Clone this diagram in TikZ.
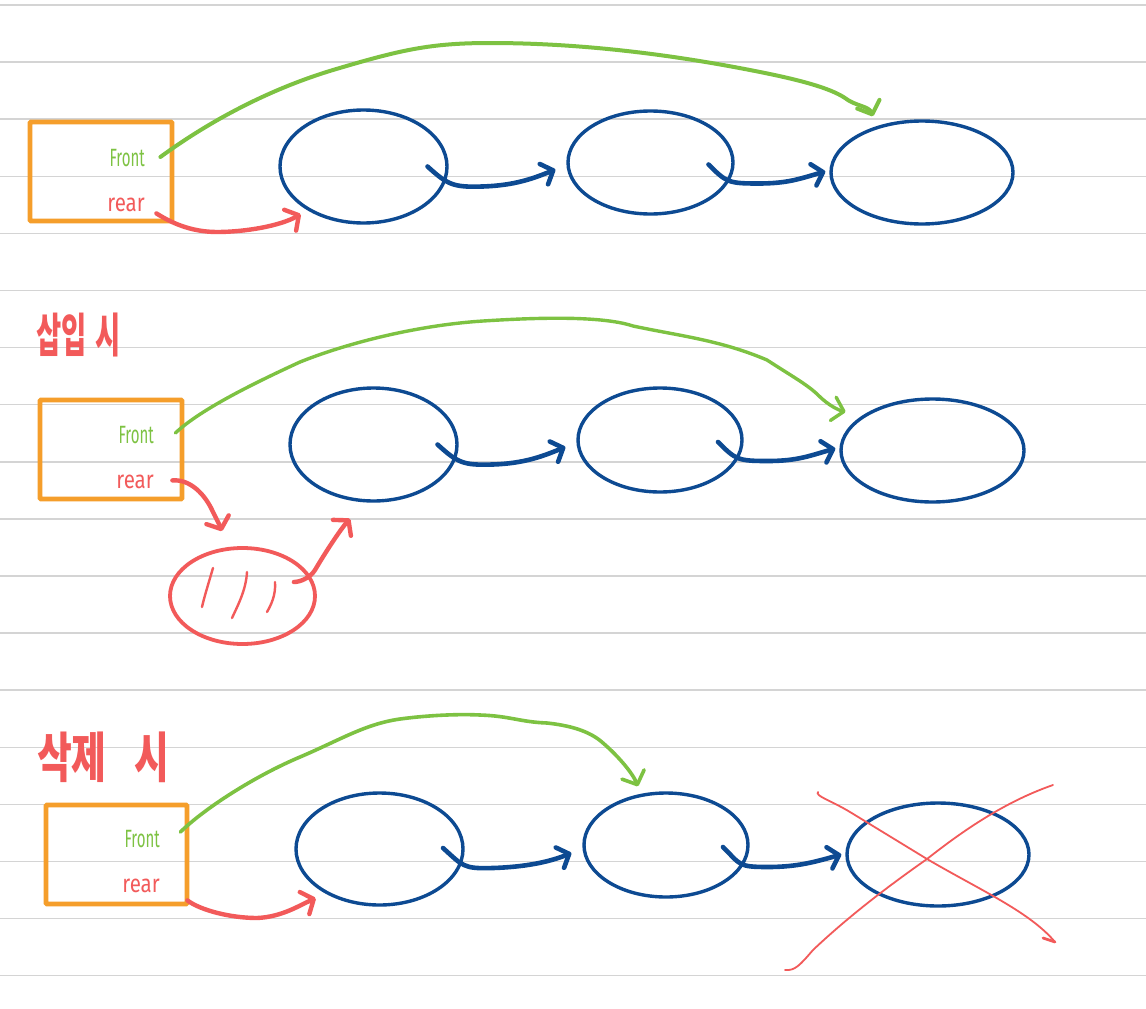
\documentclass[tikz,border=0pt]{standalone}
\usepackage{fontspec}
\usepackage{graphicx}
\setmainfont{Fira Sans}
\newfontfamily\krfont{Noto Sans CJK KR}
\usetikzlibrary{shapes.geometric,arrows.meta,calc}
\definecolor{rulegray}{HTML}{D4D4D4}
\definecolor{nblue}{HTML}{0D4A92}
\definecolor{ngreen}{HTML}{7DC242}
\definecolor{nred}{HTML}{F25A5A}
\definecolor{norange}{HTML}{F59E2B}
\newcommand\frontlbl{\fontsize{25}{25}\selectfont\scalebox{0.6}[1]{Front}}
\newcommand\rearlbl{\fontsize{25}{25}\selectfont\scalebox{0.82}[1]{rear}}
\tikzset{
  ruled/.style={draw=rulegray, line width=1.5pt},
  headbox/.style={draw=norange, line width=4.8pt, rounded corners=1pt, inner sep=0pt,
                  minimum width=142pt, minimum height=99pt},
  ell/.style={draw=nblue, ellipse, line width=3.4pt, inner sep=0pt},
  lblg/.style={text=ngreen, inner sep=0pt, anchor=base east},
  lblr/.style={text=nred, inner sep=0pt, anchor=base east},
  titletxt/.style={text=nred, inner sep=0pt, anchor=west, font=\krfont\bfseries\fontsize{36}{36}\selectfont},
  garrow/.style={draw=ngreen, line width=4pt, line cap=round, line join=round,
                 -{Straight Barb[round,length=11pt,width=24pt]}},
  barrow/.style={draw=nblue, line width=4.6pt, line cap=round, line join=round,
                 -{Straight Barb[round,length=10pt,width=22pt]}},
  rarrow/.style={draw=nred, line width=4.4pt, line cap=round, line join=round,
                 -{Straight Barb[round,length=10pt,width=24pt]}},
  blobstyle/.style={draw=nred, ellipse, line width=3.8pt, inner sep=0pt,
                    minimum width=145pt, minimum height=96pt},
  hatch/.style={draw=nred, line width=2.4pt, line cap=round},
  crossline/.style={draw=nred, line width=1.8pt, line cap=round},
}
\begin{document}
\begin{tikzpicture}[x={(1pt,0pt)}, y={(0pt,-1pt)}]
\useasboundingbox (0,0) rectangle (1146,1009);
\fill[white] (0,0) rectangle (1146,1009);
\foreach \k in {0,...,17} \draw[ruled] (0,{5+57.1*\k}) -- (1146,{5+57.1*\k});

% ---------- row 1 ----------
\node[headbox] (box1) at (101,171.5) {};
\node[lblg] (front1) at (145,166) {\frontlbl};
\node[lblr] (rear1) at (145,211) {\rearlbl};
\node[ell, minimum width=167pt, minimum height=113pt] (e1a) at (363.5,166.5) {};
\node[ell, minimum width=165pt, minimum height=103pt] (e2a) at (650.5,162.5) {};
\node[ell, minimum width=182pt, minimum height=103pt] (e3a) at (922,172.5) {};

\draw[garrow] ($(box1.east)+(-14,-14.5)$) .. controls (200,128) and (260,92) .. (333,70)
  .. controls (400,50) and (430,43) .. (490,43)
  .. controls (600,43) and (700,60) .. (760,72)
  .. controls (800,80) and (830,88) .. (845,98)
  .. controls (855,106) and (869,106) .. ($(e3a.north)+(-49,-3)$);
\draw[barrow] ($(e1a.center)+(64,0)$) .. controls +(20,18) and +(-30,1) .. ++(55,20)
  .. controls +(32,-1) and +(-22,9) .. ($(e2a.west)+(-11,7)$);
\draw[barrow] ($(e2a.center)+(58,2)$) .. controls +(18,18) and +(-30,0) .. ++(50,19)
  .. controls +(30,0) and +(-25,7) .. ($(e3a.west)+(-4,-1)$);
\draw[rarrow] ($(box1.south east)+(-18,-10)$) .. controls (170,222) and (190,232) .. (217,232)
  .. controls (245,232) and (280,226) .. ($(e1a.south west)+(-2.5,6.5)$);

% ---------- row 2 ----------
\node[titletxt] (title2) at (36,335) {\scalebox{0.76}[1.3]{삽입\hspace{12pt}시}};
\node[headbox] (box2) at (111,449.5) {};
\node[lblg] (front2) at (154,443) {\frontlbl};
\node[lblr] (rear2) at (154,488) {\rearlbl};
\node[ell, minimum width=167pt, minimum height=113pt] (e1b) at (373.5,444.5) {};
\node[ell, minimum width=164pt, minimum height=104pt] (e2b) at (660,440) {};
\node[ell, minimum width=183pt, minimum height=103pt] (e3b) at (932.5,450.5) {};
\node[blobstyle] (blob) at (242.5,596) {};

\draw[garrow, line width=3.4pt] ($(box2.east)+(-9,-16.5)$) .. controls (200,410) and (250,385) .. (300,362)
  .. controls (350,342) and (420,325) .. (483,321)
  .. controls (530,318) and (600,315) .. (633,326)
  .. controls (680,336) and (720,340) .. (767,360)
  .. controls (790,375) and (808,385) .. (818,395)
  .. controls (828,405) and (838,410) .. ($(e3b.north west)+(-21,-1)$);
\draw[barrow] ($(e1b.center)+(64,0)$) .. controls +(20,18) and +(-30,1) .. ++(55,20)
  .. controls +(32,-1) and +(-22,9) .. ($(e2b.west)+(-11,7)$);
\draw[barrow] ($(e2b.center)+(58,2)$) .. controls +(18,18) and +(-30,0) .. ++(50,19)
  .. controls +(30,0) and +(-25,7) .. ($(e3b.west)+(-4,-2)$);
\draw[rarrow] ($(box2.south east)+(-12,-21)$) .. controls (190,479) and (205,494) .. (213,512)
  .. controls (217,520) and (220,526) .. ($(blob.north)+(-20.5,-15)$);
\draw[rarrow] ($(blob.east)+(-23,-14)$) .. controls (300,582) and (310,578) .. (315,570)
  .. controls (325,553) and (340,530) .. ($(e1b.south)+(-23.5,16)$);
\draw[hatch] (213,568) .. controls (208,585) and (204,598) .. (202,607);
\draw[hatch] (247,572) .. controls (246,590) and (238,605) .. (232,618);
\draw[hatch] (275,582) .. controls (276,595) and (271,605) .. (267,612);

% ---------- row 3 ----------
\node[titletxt] (title3) at (37,757) {\scalebox{1.05}[1.5]{삭제\hspace{26pt}시}};
\node[headbox, minimum width=141pt] (box3) at (116.5,854.5) {};
\node[lblg] (front3) at (160,847) {\frontlbl};
\node[lblr] (rear3) at (160,892) {\rearlbl};
\node[ell, minimum width=167pt, minimum height=112pt] (e1c) at (379.5,849) {};
\node[ell, minimum width=164pt, minimum height=104pt] (e2c) at (666,845) {};
\node[ell, minimum width=182pt, minimum height=103pt] (e3c) at (938,854.5) {};

\draw[garrow, line width=3.6pt] ($(box3.east)+(-9,-22.5)$) .. controls (205,808) and (255,776) .. (300,757)
  .. controls (340,740) and (365,724) .. (400,719)
  .. controls (430,715) and (460,714) .. (480,715)
  .. controls (510,716) and (520,722) .. (547,723)
  .. controls (575,726) and (592,733) .. (603,743)
  .. controls (617,755) and (632,772) .. ($(e2c.north)+(-28,-5)$);
\draw[barrow] ($(e1c.center)+(63.5,-1)$) .. controls +(20,18) and +(-30,1) .. ++(50,20)
  .. controls +(32,-1) and +(-22,9) .. ($(e2c.west)+(-11,8)$);
\draw[barrow] ($(e2c.center)+(57,2)$) .. controls +(18,18) and +(-30,0) .. ++(45,20)
  .. controls +(30,0) and +(-25,7) .. ($(e3c.west)+(-4,0)$);
\draw[rarrow] ($(box3.south east)+(-2,-6)$) .. controls (200,910) and (230,918) .. (257,918)
  .. controls (282,917) and (300,905) .. ($(e1c.south west)+(-3.5,8.4)$);

% red cross over the deleted node
\draw[crossline] (818,792) .. controls (815,796) and (830,800) .. (850,812) -- (927,859)
  .. controls (980,890) and (1030,912) .. (1055,942);
\draw[crossline, line width=2.8pt] (1043,938) -- (1055,942);
\draw[crossline] (785,970) .. controls (795,971) and (800,965) .. (813,950)
  .. controls (850,915) and (890,885) .. (927,859)
  .. controls (970,825) and (1010,800) .. (1053,785);
\end{tikzpicture}
\end{document}
